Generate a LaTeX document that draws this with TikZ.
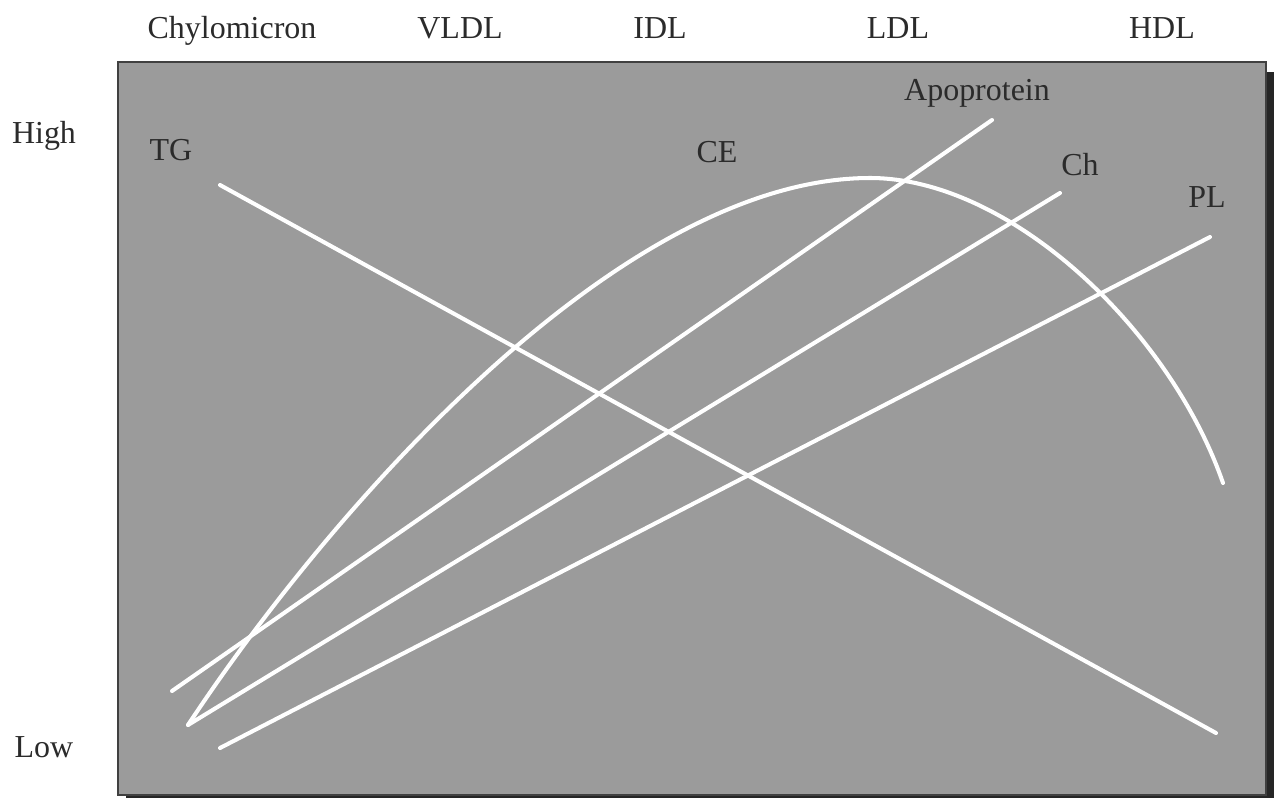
\documentclass[tikz,border=0pt]{standalone}
\usepackage{fontspec}
\setmainfont{Liberation Serif}
\definecolor{panelgray}{HTML}{9B9B9B}
\definecolor{labelgray}{HTML}{2B2B2B}
\definecolor{shadowgray}{HTML}{262626}
\begin{document}
\begin{tikzpicture}[x=0.02cm, y=-0.02cm,
		lbl/.style={text=labelgray, font=\fontsize{18.2}{22}\selectfont, anchor=base, inner sep=0pt},
		wline/.style={white, line width=2.3pt, line cap=round, line join=round}]
		\useasboundingbox (0,0) rectangle (1274,798);

		% Panel med skygge
		\fill[shadowgray] (126,72) rectangle (1274,798);
		\filldraw[fill=panelgray, draw=black!75, line width=1pt] (118,62) rectangle (1266,795);

		% Lipoproteinklasser langs toppen
		\node[lbl] (chylo) at (232,38) {Chylomicron};
		\node[lbl] (vldl) at (460,38) {VLDL};
		\node[lbl] (idl) at (660,38) {IDL};
		\node[lbl] (ldl) at (898,38) {LDL};
		\node[lbl] (hdl) at (1162,38) {HDL};

		% Akse: hoy / lav
		\node[lbl] (high) at (44,143) {High};
		\node[lbl] (low) at (44,757) {Low};

		% Endepunkter for linjene
		\coordinate (tgA) at (220,185);
		\coordinate (tgB) at (1216,733);
		\coordinate (apoA) at (172,691);
		\coordinate (apoB) at (992,120);
		\coordinate (chA) at (188,725);
		\coordinate (chB) at (1060,193);
		\coordinate (plA) at (220,748);
		\coordinate (plB) at (1210,237);
		\coordinate (ceTop) at (870,178);
		\coordinate (ceEnd) at (1223,483);

		% Rette linjer
		\draw[wline] (tgA) -- (tgB);
		\draw[wline] (apoA) -- (apoB);
		\draw[wline] (chA) -- (chB);
		\draw[wline] (plA) -- (plB);

		% CE-kurve
		\draw[wline] (chA) .. controls (330,510) and (620,178) .. (ceTop)
			.. controls (1010,178) and (1170,330) .. (ceEnd);

		% Navn paa kurvene
		\node[lbl] (tg) at (171,160) {TG};
		\node[lbl] (ce) at (717,162) {CE};
		\node[lbl] (apo) at (977,100) {Apoprotein};
		\node[lbl] (ch) at (1080,175) {Ch};
		\node[lbl] (pl) at (1207,207) {PL};
	\end{tikzpicture}
\end{document}
